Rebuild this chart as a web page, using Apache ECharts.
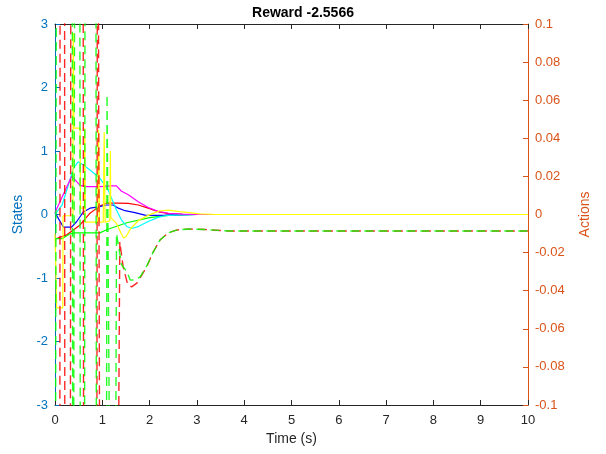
<!DOCTYPE html>
<html><head><meta charset="utf-8">
<script src="https://cdn.jsdelivr.net/npm/echarts@6/dist/echarts.min.js"></script>
<style>html,body{margin:0;padding:0;background:#fff}#c{width:606px;height:454px}</style>
</head><body><div id="c"></div><script>
// ---- tick labels / ranges ----
const xTicks = [0,1,2,3,4,5,6,7,8,9,10];
const stateTicks = [-3,-2,-1,0,1,2,3];
const actionTicks = [-0.1,-0.08,-0.06,-0.04,-0.02,0,0.02,0.04,0.06,0.08,0.1];
const titleText = 'Reward -2.5566';

// ---- states (left axis) ----
const blueT = [0,0.18,0.35,0.46,0.6,0.74,0.92,1.09,1.23,1.34,1.48,1.69,1.9,2.11,2.33,2.6,3.0,3.5,10];
const blueV = [0.03,-0.2,-0.2,-0.11,0.04,0.1,0.12,0.15,0.15,0.1,0.06,0.03,-0.01,-0.013,-0.01,-0.005,0,0,0];

const magentaT = [0,0.35,0.43,0.53,0.67,0.95,1.2,1.3,1.4,1.55,1.76,1.97,2.18,2.4,2.7,3.0,10];
const magentaV = [0.03,0.6,0.54,0.46,0.44,0.44,0.45,0.45,0.37,0.31,0.2,0.11,0.05,0.02,0.005,0,0];

const cyanT = [0,0.15,0.28,0.39,0.49,0.6,0.74,0.95,1.12,1.3,1.4,1.52,1.62,1.76,1.97,2.18,2.33,2.6,3.0,10];
const cyanV = [0,0.15,0.46,0.73,0.83,0.78,0.7,0.57,0.39,0.07,-0.08,-0.19,-0.22,-0.19,-0.11,-0.045,-0.02,-0.005,0,0];

const redT = [0,0.25,0.53,0.74,0.92,1.09,1.3,1.55,1.76,1.97,2.18,2.4,2.7,3.0,10];
const redV = [-0.385,-0.32,-0.165,0.02,0.12,0.18,0.18,0.175,0.15,0.1,0.045,0.015,0.003,0,0];

const greenT = [0,0.15,0.3,0.42,0.95,1.09,1.52,2.0,2.4,3.0,10];
const greenV = [-0.38,-0.38,-0.31,-0.29,-0.29,-0.24,-0.13,-0.05,-0.015,0,0];

const yellowT = [0,0.02,0.035,0.165,0.17,0.38,0.385,0.4,0.53,0.54,0.62,0.63,0.64,0.9,0.92,0.94,1.02,1.04,1.06,1.16,1.17,1.18,1.3,1.4,1.45,1.5,1.6,1.77,1.98,2.2,2.4,2.63,2.84,3.05,3.4,10];
const yellowV = [-0.3,-0.3,-1.47,-1.47,-0.02,-0.02,2.86,1.36,1.36,0.1,0.1,1.36,-0.12,-0.12,1.33,-0.12,-0.12,1.3,-0.12,-0.1,1.0,-0.05,-0.14,-0.3,-0.37,-0.35,-0.22,-0.09,-0.01,0.055,0.07,0.045,0.03,0.01,0,0];

// ---- actions (right axis) ----
const actRedT = [0,0.1,0.11,0.2,0.21,0.32,0.34,0.59,0.61,0.88,0.9,0.94,0.96,1.3,1.37,1.44,1.54,1.62,1.73,1.8,1.94,2.07,2.22,2.39,2.58,2.85,3.17,3.7,10];
const actRedV = [-0.3,-0.3,0.3,0.3,-0.3,-0.3,0.3,0.3,-0.3,-0.3,0.3,0.3,-0.3,-0.3,-0.0143,-0.0274,-0.037,-0.038,-0.036,-0.0333,-0.0274,-0.02,-0.0134,-0.0097,-0.0081,-0.0076,-0.0079,-0.0087,-0.0087];

const actGreenT = [0,0.02,0.04,0.36,0.38,0.41,0.43,0.52,0.54,0.62,0.64,0.86,0.88,1.08,1.1,1.2,1.26,1.3,1.41,1.52,1.59,1.69,1.8,1.94,2.07,2.22,2.39,2.58,2.85,3.17,3.7,10];
const actGreenV = [-0.3,-0.3,0.3,0.3,-0.3,-0.3,0.3,0.3,-0.3,-0.3,0.3,0.3,-0.3,-0.3,0.063,-0.3,-0.3,-0.01,-0.0265,-0.03,-0.0344,-0.0344,-0.0327,-0.027,-0.02,-0.0134,-0.0097,-0.0081,-0.0076,-0.0079,-0.0087,-0.0087];

function pairs(t, v){ return t.map((x,i)=>[x, v[i]]); }

const FONT = 'Liberation Sans, Arial, Helvetica, sans-serif';
const AX = '#262626', LBLUE = '#0072BD', RORANGE = '#D95319';

function stateSeries(name, color, t, v){
  return {name, type:'line', xAxisIndex:0, yAxisIndex:0, data:pairs(t,v), showSymbol:false,
    lineStyle:{color, width:1.2}, clip:true, silent:true, z:2};
}
function actSeries(name, color, t, v, off){
  return {name, type:'line', xAxisIndex:0, yAxisIndex:1, data:pairs(t,v), showSymbol:false,
    lineStyle:{color, width:1.4, type:[9,5], dashOffset:off, opacity:0.85}, clip:true, silent:true, z:3};
}

const chart = echarts.init(document.getElementById('c'), null, {renderer:'canvas'});
chart.setOption({
  animation:false,
  backgroundColor:'#fff',
  textStyle:{fontFamily:FONT},
  title:{text:titleText, left:'center', top:1, textStyle:{fontFamily:FONT, fontSize:14, fontWeight:'bold', color:'#000'}},
  grid:{left:55, right:78, top:24, bottom:49, containLabel:false},
  xAxis:[{
    type:'value', min:xTicks[0], max:xTicks[xTicks.length-1], interval:1, position:'bottom',
    name:'Time (s)', nameLocation:'middle', nameGap:26,
    nameTextStyle:{color:AX, fontSize:14, fontFamily:FONT},
    axisLine:{onZero:false, lineStyle:{color:AX, width:1}},
    axisTick:{inside:true, length:5, lineStyle:{color:AX}},
    axisLabel:{color:AX, fontSize:13, margin:9, fontFamily:FONT},
    splitLine:{show:false}
  },{
    type:'value', min:xTicks[0], max:xTicks[xTicks.length-1], interval:1, position:'top',
    axisLine:{onZero:false, lineStyle:{color:AX, width:1}},
    axisTick:{inside:true, length:5, lineStyle:{color:AX}},
    axisLabel:{show:false}, splitLine:{show:false}
  }],
  yAxis:[{
    type:'value', min:stateTicks[0], max:stateTicks[stateTicks.length-1], interval:1, position:'left',
    name:'States', nameLocation:'middle', nameGap:27, nameRotate:90,
    nameTextStyle:{color:LBLUE, fontSize:14, fontFamily:FONT},
    axisLine:{show:true, onZero:false, lineStyle:{color:LBLUE, width:1}},
    axisTick:{show:true, inside:true, length:5, lineStyle:{color:LBLUE}},
    axisLabel:{color:LBLUE, fontSize:13, margin:7, fontFamily:FONT},
    splitLine:{show:false}
  },{
    type:'value', min:actionTicks[0], max:actionTicks[actionTicks.length-1], interval:0.02, position:'right',
    name:'Actions', nameLocation:'middle', nameGap:50, nameRotate:90,
    nameTextStyle:{color:RORANGE, fontSize:14, fontFamily:FONT},
    axisLine:{show:true, onZero:false, lineStyle:{color:RORANGE, width:1}},
    axisTick:{show:true, inside:true, length:5, lineStyle:{color:RORANGE}},
    axisLabel:{color:RORANGE, fontSize:13, margin:7, fontFamily:FONT,
      formatter:(v)=>String(Number(v.toFixed(2)))},
    splitLine:{show:false}
  }],
  series:[
    stateSeries('s1','#ff0000',redT,redV),
    stateSeries('s2','#00ff00',greenT,greenV),
    stateSeries('s3','#0000ff',blueT,blueV),
    stateSeries('s4','#00ffff',cyanT,cyanV),
    stateSeries('s5','#ff00ff',magentaT,magentaV),
    stateSeries('s6','#ffff00',yellowT,yellowV),
    actSeries('a1','#ff0000',actRedT,actRedV,0),
    actSeries('a2','#00ff00',actGreenT,actGreenV,7)
  ]
});
</script></body></html>
